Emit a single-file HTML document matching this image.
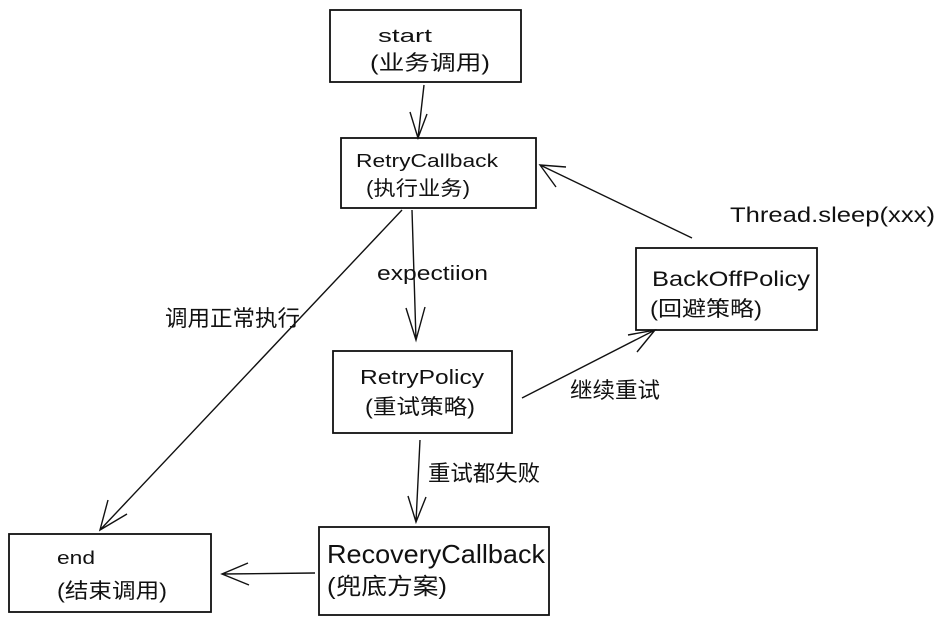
<!DOCTYPE html>
<html><head><meta charset="utf-8"><style>
body{margin:0;background:#fff;}
svg{display:block}
text{font-family:"Liberation Sans","Noto Sans CJK SC",sans-serif;fill:#111;}
</style></head><body>
<svg width="942" height="621" viewBox="0 0 942 621" xmlns="http://www.w3.org/2000/svg">
<g fill="none" stroke="#111" stroke-width="1.8">
<rect x="330" y="10" width="191" height="72"/>
<rect x="341" y="138" width="195" height="70"/>
<rect x="333" y="351" width="179" height="82"/>
<rect x="636" y="248" width="181" height="82"/>
<rect x="9" y="534" width="202" height="78"/>
<rect x="319" y="527" width="230" height="88"/>
<g stroke-width="1.4">
<path d="M424 85 L418 138 M410 112 L418 138 L427 114"/>
<path d="M412 210 L416 340 M406 308 L416 340 L425 307"/>
<path d="M402 210 L100 530 M108 500 L100 530 L127 514"/>
<path d="M522 398 L655 330 M628 335 L655 330 L637 352"/>
<path d="M692 238 L540 165 M566 167 L540 165 L556 187"/>
<path d="M420 440 L416 522 M408 496 L416 522 L426 497"/>
<path d="M315 573 L222 574 M248 563 L222 574 L249 585"/>
</g>
</g>
<g font-size="18">
<text x="378" y="42" textLength="54" lengthAdjust="spacingAndGlyphs">start</text>
<text x="370" y="70" font-size="21" textLength="120" lengthAdjust="spacingAndGlyphs">(业务调用)</text>
<text x="356" y="167" textLength="142" lengthAdjust="spacingAndGlyphs">RetryCallback</text>
<text x="366" y="195" font-size="20" textLength="104" lengthAdjust="spacingAndGlyphs">(执行业务)</text>
<text x="377" y="280" font-size="20" textLength="111" lengthAdjust="spacingAndGlyphs">expectiion</text>
<text x="165" y="326" font-size="22" textLength="135" lengthAdjust="spacingAndGlyphs">调用正常执行</text>
<text x="360" y="384" font-size="20" textLength="124" lengthAdjust="spacingAndGlyphs">RetryPolicy</text>
<text x="365" y="414" font-size="21" textLength="110" lengthAdjust="spacingAndGlyphs">(重试策略)</text>
<text x="570" y="398" font-size="22" textLength="90" lengthAdjust="spacingAndGlyphs">继续重试</text>
<text x="730" y="222" font-size="21" textLength="205" lengthAdjust="spacingAndGlyphs">Thread.sleep(xxx)</text>
<text x="652" y="286" font-size="21" textLength="158" lengthAdjust="spacingAndGlyphs">BackOffPolicy</text>
<text x="650" y="316" font-size="21" textLength="112" lengthAdjust="spacingAndGlyphs">(回避策略)</text>
<text x="428" y="481" font-size="22" textLength="112" lengthAdjust="spacingAndGlyphs">重试都失败</text>
<text x="57" y="564" textLength="38" lengthAdjust="spacingAndGlyphs">end</text>
<text x="57" y="598" font-size="21" textLength="110" lengthAdjust="spacingAndGlyphs">(结束调用)</text>
<text x="327" y="563" font-size="26" textLength="218" lengthAdjust="spacingAndGlyphs">RecoveryCallback</text>
<text x="327" y="594" font-size="23" textLength="120" lengthAdjust="spacingAndGlyphs">(兜底方案)</text>
</g>
</svg>
</body></html>
